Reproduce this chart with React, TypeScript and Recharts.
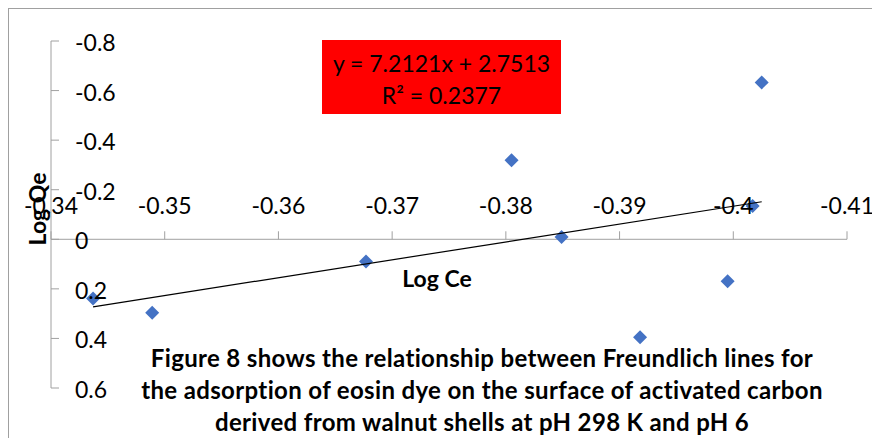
import React from 'react';
import { ScatterChart, Scatter, XAxis, YAxis, ReferenceLine } from 'recharts';

// Freundlich isotherm: Log Ce vs Log Qe
const logCe = [-0.3437, -0.3489, -0.3677, -0.3805, -0.3849, -0.3918, -0.3995, -0.4017, -0.4025];
const logQe = [0.239, 0.296, 0.09, -0.319, -0.009, 0.395, 0.169, -0.134, -0.633];
const xTicks = [-0.34, -0.35, -0.36, -0.37, -0.38, -0.39, -0.4, -0.41];
const yTicks = [-0.8, -0.6, -0.4, -0.2, 0, 0.2, 0.4, 0.6];
const slope = 7.2121;
const intercept = 2.7513;
const rSquared = 0.2377;

const X_DOMAIN = [-0.41, -0.34];
const Y_DOMAIN = [-0.8, 0.6];

const W = 872;
const H = 430;
const X_AXIS_H = 30;
const MARGIN = { top: 32, right: 34, bottom: 51 - X_AXIS_H, left: 0 };
const AXIS_W = 42;
const PLOT_H = H - 32 - 51;
const ZERO_Y = MARGIN.top + ((0 - Y_DOMAIN[0]) / (Y_DOMAIN[1] - Y_DOMAIN[0])) * PLOT_H;

const AXIS = '#a0a0a0';
const FONT = 'Lato, "Open Sans", sans-serif';

const points = logCe.map((x, i) => ({ x, y: logQe[i] }));
const xs = [Math.max(...logCe), Math.min(...logCe)];
const trend = xs.map((x) => ({ x, y: slope * x + intercept }));

const XTick = (props: any) => {
  const { x, payload } = props;
  return (
    <g>
      <line x1={x} x2={x} y1={ZERO_Y} y2={ZERO_Y - 8} stroke={AXIS} />
      <text
        x={x}
        y={ZERO_Y - 34}
        textAnchor="middle"
        dominantBaseline="central"
        fontSize={23}
        fontFamily={FONT}
        fill="#000"
      >
        {String(payload.value)}
      </text>
    </g>
  );
};

const YTick = (props: any) => {
  const { y, payload } = props;
  return (
    <g>
      <line x1={AXIS_W} x2={AXIS_W + 8} y1={y} y2={y} stroke={AXIS} />
      <text
        x={AXIS_W + 24}
        y={y + 1}
        textAnchor="start"
        dominantBaseline="central"
        fontSize={23}
        fontFamily={FONT}
        fill="#000"
      >
        {String(payload.value)}
      </text>
    </g>
  );
};

const Diamond = (props: any) => {
  const { cx, cy } = props;
  const r = 7;
  return (
    <polygon
      points={`${cx},${cy - r} ${cx + r},${cy} ${cx},${cy + r} ${cx - r},${cy}`}
      fill="#4472C4"
    />
  );
};

const NoShape = () => <g />;

export default function App() {
  return (
    <div
      style={{
        position: 'relative',
        width: W,
        height: H,
        borderTop: `1px solid ${AXIS}`,
        borderLeft: `1px solid ${AXIS}`,
        fontFamily: FONT,
        color: '#000',
      }}
    >
      <ScatterChart width={W} height={H} margin={MARGIN}>
        <XAxis
          type="number"
          dataKey="x"
          domain={X_DOMAIN}
          reversed
          ticks={xTicks}
          interval={0}
          height={X_AXIS_H}
          axisLine={false}
          tickLine={false}
          tick={XTick}
        />
        <YAxis
          type="number"
          dataKey="y"
          domain={Y_DOMAIN}
          reversed
          ticks={yTicks}
          interval={0}
          width={AXIS_W}
          axisLine={{ stroke: AXIS }}
          tickLine={false}
          tick={YTick}
        />
        <ReferenceLine y={0} stroke={AXIS} />
        <Scatter data={points} shape={Diamond} isAnimationActive={false} />
        <Scatter
          data={trend}
          shape={NoShape}
          line={{ stroke: '#000', strokeWidth: 1.2 }}
          isAnimationActive={false}
        />
      </ScatterChart>

      <div
        style={{
          position: 'absolute',
          left: 313,
          top: 31,
          width: 239,
          height: 74,
          boxSizing: 'border-box',
          paddingTop: 7,
          background: '#ff0000',
          textAlign: 'center',
          fontSize: 23,
          lineHeight: '32px',
        }}
      >
        <div>{`y = ${slope}x + ${intercept}`}</div>
        <div>{`R² = ${rSquared}`}</div>
      </div>

      <div
        style={{
          position: 'absolute',
          left: 428,
          top: 269,
          transform: 'translate(-50%, -50%)',
          fontWeight: 'bold',
          fontSize: 23,
          whiteSpace: 'nowrap',
        }}
      >
        Log Ce
      </div>

      <div
        style={{
          position: 'absolute',
          left: 28,
          top: 200,
          transform: 'translate(-50%, -50%) rotate(-90deg)',
          fontWeight: 'bold',
          fontSize: 23,
          whiteSpace: 'nowrap',
        }}
      >
        Log Qe
      </div>

      <div
        style={{
          position: 'absolute',
          left: 473,
          top: 333,
          transform: 'translateX(-50%)',
          fontWeight: 'bold',
          fontSize: 24,
          letterSpacing: 0.35,
          lineHeight: '32px',
          textAlign: 'center',
          whiteSpace: 'nowrap',
        }}
      >
        <div>Figure 8 shows the relationship between Freundlich lines for</div>
        <div>the adsorption of eosin dye on the surface of activated carbon</div>
        <div>derived from walnut shells at pH 298 K and pH 6</div>
      </div>
    </div>
  );
}
